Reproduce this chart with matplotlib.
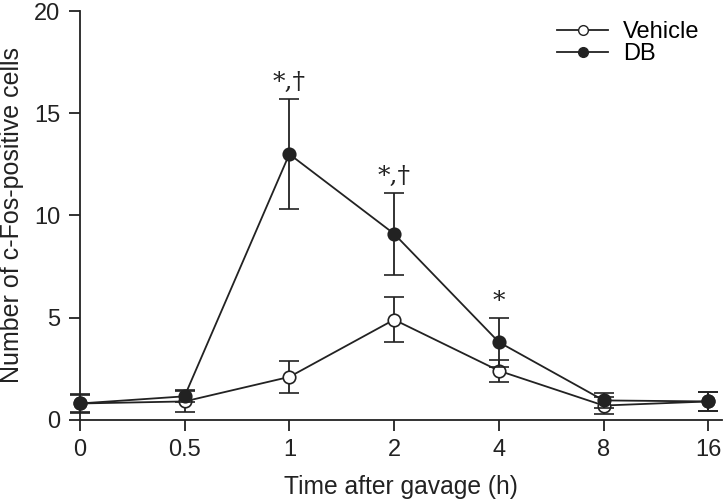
import matplotlib.pyplot as plt
from matplotlib.lines import Line2D

plt.rcParams['font.family'] = ['Liberation Sans', 'DejaVu Sans']

# time points (categorical, evenly spaced)
times = ['0', '0.5', '1', '2', '4', '8', '16']

vehicle_mean = [0.8, 0.9, 2.1, 4.9, 2.4, 0.7, 0.9]
vehicle_err = [0.4, 0.5, 0.8, 1.1, 0.55, 0.4, 0.45]

db_mean = [0.8, 1.15, 13.0, 9.1, 3.8, 0.95, 0.9]
db_err = [0.45, 0.3, 2.7, 2.0, 1.2, 0.35, 0.45]

# significance marks above DB points
sig_idx = [2, 3, 4]
sig_text = ['*,\u2020', '*,\u2020', '*']

x = list(range(len(times)))
ink = '#222222'

fig = plt.figure(figsize=(7.25, 5.01), dpi=100)
ax = fig.add_axes([0.110, 0.162, 0.886, 0.816])

for m, e, fc, z in [(vehicle_mean, vehicle_err, 'white', 3), (db_mean, db_err, ink, 4)]:
    ax.errorbar(x, m, yerr=e, fmt='-o', color=ink, mfc=fc, mec=ink, ms=9,
                mew=1.2, lw=1.3, elinewidth=1.3, capsize=7, capthick=1.3,
                zorder=z, clip_on=False)

for i, t in zip(sig_idx, sig_text):
    ax.text(x[i], db_mean[i] + db_err[i] + 0.25, t, ha='center', va='bottom',
            fontsize=18, family='DejaVu Serif', color=ink)

ax.set_xlim(0, 6.13)
ax.set_ylim(0, 20)
ax.set_xticks(x)
ax.set_xticklabels(times)
ax.set_yticks([0, 5, 10, 15, 20])
ax.tick_params(direction='out', length=8, width=1.3, labelsize=17, colors=ink, pad=6)
for s in ['top', 'right']:
    ax.spines[s].set_visible(False)
for s in ['left', 'bottom']:
    ax.spines[s].set_linewidth(1.3)
    ax.spines[s].set_color(ink)

ax.set_xlabel('Time after gavage (h)', fontsize=17.7, color=ink, labelpad=10)
ax.set_ylabel('Number of c-Fos-positive cells', fontsize=18, color=ink, labelpad=7)

handles = [Line2D([], [], color=ink, marker='o', mfc='white', mec=ink, ms=7, lw=1.3),
           Line2D([], [], color=ink, marker='o', mfc=ink, mec=ink, ms=7, lw=1.3)]
ax.legend(handles, ['Vehicle', 'DB'], loc='upper right', frameon=False,
          fontsize=17, handlelength=2.2, handletextpad=0.6, labelspacing=0.0,
          bbox_to_anchor=(0.99, 1.015), borderaxespad=0.3)

fig.savefig('out.png', dpi=100)
